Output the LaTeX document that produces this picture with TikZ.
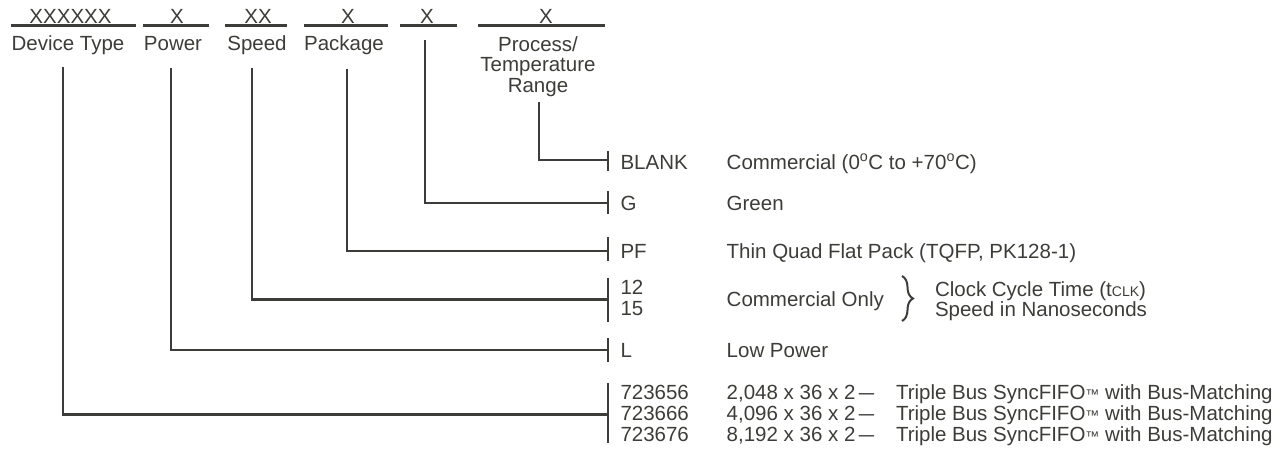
\documentclass[tikz,border=0pt]{standalone}
\usepackage{fontspec}
\setmainfont{Liberation Sans}
\usetikzlibrary{decorations.pathreplacing}
\definecolor{ink}{RGB}{60,60,56}
\newcommand{\mainfs}{\fontsize{20.5}{20.5}\selectfont}
\newcommand{\smallfs}{\fontsize{14}{14}\selectfont}
\newcommand{\tmark}{{\fontsize{14}{14}\selectfont ™}}
\newcommand{\sdash}{\,\scalebox{0.75}[1]{—}}
\begin{document}
\begin{tikzpicture}[x=1pt,y=-1pt,
  every node/.style={inner sep=0pt,outer sep=0pt,text=ink,font=\mainfs},
  lbl/.style={anchor=base},
  opt/.style={anchor=base west},
  wire/.style={draw=ink,line width=2.3pt},
  tick/.style={draw=ink,line width=2.3pt},
  uline/.style={draw=ink,line width=2.2pt}]
\useasboundingbox (0,0) rectangle (1286,449);
% code fields
\node[lbl] (c1) at (70.5,23.5) {XXXXXX};
\node[lbl] (c2) at (177,23.5) {X};
\node[lbl] (c3) at (258,23.5) {XX};
\node[lbl] (c4) at (348,23.5) {X};
\node[lbl] (c5) at (427,23.5) {X};
\node[lbl] (c6) at (546,23.5) {X};
\draw[uline] (11,25.5) -- (136,25.5);
\draw[uline] (143,25.5) -- (209,25.5);
\draw[uline] (225,25.5) -- (287,25.5);
\draw[uline] (304,25.5) -- (388,25.5);
\draw[uline] (400,25.5) -- (457,25.5);
\draw[uline] (478,25.5) -- (605,25.5);
% field names
\node[lbl] (n1) at (68,50.7) {Device Type};
\node[lbl] (n2) at (173,50.7) {Power};
\node[lbl] (n3) at (257,50.7) {Speed};
\node[lbl] (n4) at (344,50.7) {Package};
\node[lbl] (n6a) at (538,51.5) {Process/};
\node[lbl] (n6b) at (538,72) {Temperature};
\node[lbl] (n6c) at (538,92.5) {Range};
% connector start points
\coordinate (s1) at (63.3,67);
\coordinate (s2) at (170.7,68);
\coordinate (s3) at (252.3,68);
\coordinate (s4) at (346.7,69);
\coordinate (s5) at (425.3,40);
\coordinate (s6) at (539,102);
% tick points
\def\tx{608.3}
\coordinate (t6) at (\tx,160);
\coordinate (t5) at (\tx,203.3);
\coordinate (t4) at (\tx,250.7);
\coordinate (t3) at (\tx,299.5);
\coordinate (t2) at (\tx,350);
\coordinate (t1) at (\tx,414.5);
% connectors
\draw[wire] (s6) |- (t6);
\draw[wire] (s5) |- (t5);
\draw[wire] (s4) |- (t4);
\draw[wire] (s3) |- (t3);
\draw[wire] (s2) |- (t2);
\draw[wire] (s1) |- (t1);
% ticks
\draw[tick] (\tx,151.5) -- (\tx,171.5);
\draw[tick] (\tx,191.5) -- (\tx,214.5);
\draw[tick] (\tx,237) -- (\tx,261.5);
\draw[tick] (\tx,278) -- (\tx,321.7);
\draw[tick] (\tx,338.3) -- (\tx,361.7);
\draw[tick] (\tx,383.3) -- (\tx,442.7);
% option codes
\node[opt] (o6) at (620.5,169.5) {BLANK};
\node[opt] (o5) at (620.5,210.8) {G};
\node[opt] (o4) at (620.5,258.2) {PF};
\node[opt] (o3a) at (620.5,294.5) {12};
\node[opt] (o3b) at (620.5,315.5) {15};
\node[opt] (o2) at (620.5,357) {L};
\node[opt] (o1a) at (620.5,399.2) {723656};
\node[opt] (o1b) at (620.5,420.2) {723666};
\node[opt] (o1c) at (620.5,441) {723676};
% descriptions
\node[opt] (d6) at (726.7,169.5) {Commercial (0\textsuperscript{o}C to +70\textsuperscript{o}C)};
\node[opt] (d5) at (726.7,210.8) {Green};
\node[opt] (d4) at (726.7,258.2) {Thin Quad Flat Pack (TQFP, PK128-1)};
\node[opt] (d3) at (726.7,306.8) {Commercial Only};
\draw[draw=ink,line width=2pt,decorate,decoration={brace,amplitude=11pt}] (902,276) -- (902,321);
\node[opt] (d3a) at (935,296.8) {Clock Cycle Time (t{\smallfs CLK})};
\node[opt] (d3b) at (935,316.8) {Speed in Nanoseconds};
\node[opt] (d2) at (726.7,357) {Low Power};
\node[opt] (d1a) at (726.7,399.2) {2,048 x 36 x 2\sdash};
\node[opt] (d1b) at (726.7,420.2) {4,096 x 36 x 2\sdash};
\node[opt] (d1c) at (726.7,441) {8,192 x 36 x 2\sdash};
\node[opt] (e1a) at (896,399.2) {Triple Bus SyncFIFO\tmark{} with Bus-Matching};
\node[opt] (e1b) at (896,420.2) {Triple Bus SyncFIFO\tmark{} with Bus-Matching};
\node[opt] (e1c) at (896,441) {Triple Bus SyncFIFO\tmark{} with Bus-Matching};
\end{tikzpicture}
\end{document}
